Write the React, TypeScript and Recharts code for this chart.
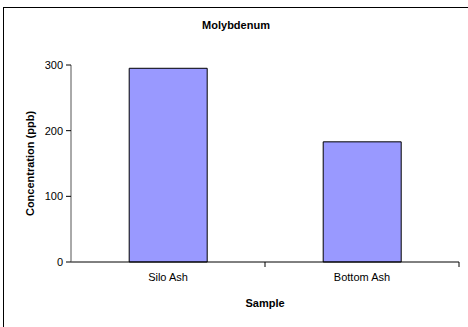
import React from 'react';
import { BarChart, Bar, XAxis, YAxis } from 'recharts';

const categories = ['Silo Ash', 'Bottom Ash'];
const concentration = [295, 183];
const yTicks = [0, 100, 200, 300];
const title = 'Molybdenum';
const yLabel = 'Concentration (ppb)';
const xLabel = 'Sample';

const data = categories.map((name, i) => ({ name, value: concentration[i] }));

const FONT = '"Liberation Sans", Arial, sans-serif';

const CatTick = (props: any) => {
  const { x, y, payload } = props;
  const off = payload && payload.offset ? payload.offset : 0;
  const axisY = y - 11;
  return (
    <g>
      <text x={x} y={y} dy="0.71em" textAnchor="middle" fontSize={11} fontFamily={FONT} fill="#000">
        {payload.value}
      </text>
      <line x1={x + off} x2={x + off} y1={axisY} y2={axisY + 5} stroke="#000" strokeWidth={1} />
    </g>
  );
};

export default function App() {
  return (
    <div style={{ position: 'absolute', left: 0, top: 0, width: 468, height: 327, background: '#fff', overflow: 'hidden' }}>
      <div
        style={{
          position: 'absolute',
          left: 3,
          top: 7,
          width: 480,
          height: 340,
          border: '1px solid #000',
        }}
      />
      <div
        style={{
          position: 'absolute',
          left: 0,
          top: 19,
          width: 472,
          textAlign: 'center',
          fontFamily: FONT,
          fontWeight: 'bold',
          fontSize: 11,
        }}
      >
        {title}
      </div>
      <div style={{ position: 'absolute', left: 0, top: 0 }}>
        <BarChart
          width={468}
          height={327}
          data={data}
          margin={{ top: 65, right: 9, bottom: 0, left: 0 }}
          barCategoryGap="30%"
        >
          <XAxis
            xAxisId="top"
            orientation="top"
            dataKey="name"
            height={0}
            tick={false}
            tickLine={false}
            axisLine={{ stroke: '#999' }}
          />
          <YAxis
            yAxisId="right"
            orientation="right"
            width={0}
            tick={false}
            tickLine={false}
            axisLine={{ stroke: '#999' }}
          />
          <XAxis
            dataKey="name"
            height={65}
            tickLine={false}
            tickSize={5}
            tickMargin={6}
            tick={<CatTick />}
            axisLine={{ stroke: '#000' }}
            interval={0}
            label={{ value: xLabel, position: 'insideTop', offset: 37, fontSize: 11, fontWeight: 'bold', fontFamily: FONT, fill: '#000' }}
          />
          <YAxis
            width={71}
            domain={[0, 300]}
            ticks={yTicks}
            interval={0}
            tickSize={5}
            tickMargin={3}
            tick={{ fontSize: 11, fontFamily: FONT, fill: '#000' }}
            tickLine={{ stroke: '#000' }}
            axisLine={{ stroke: '#555' }}
            label={{ value: yLabel, angle: -90, position: 'center', dx: -5, fontSize: 11, fontWeight: 'bold', fontFamily: FONT, fill: '#000' }}
          />
          <Bar dataKey="value" fill="#9999FF" stroke="#000" strokeWidth={1} isAnimationActive={false} />
        </BarChart>
      </div>
    </div>
  );
}
